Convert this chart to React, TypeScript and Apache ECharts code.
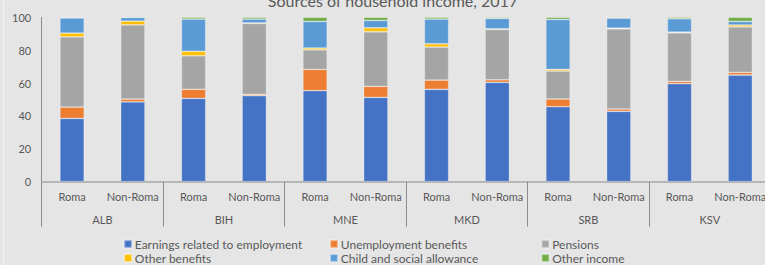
import React, { useEffect, useRef } from "react";
import * as echarts from "echarts";

const groups = ["ALB", "BIH", "MNE", "MKD", "SRB", "KSV"];
const subgroups = ["Roma", "Non-Roma"];
const categories = groups.flatMap((g) => subgroups.map((s) => `${g} ${s}`));
const yTicks = [0, 20, 40, 60, 80, 100];

const seriesNames = [
  "Earnings related to employment",
  "Unemployment benefits",
  "Pensions",
  "Other benefits",
  "Child and social allowance",
  "Other income",
];
const earnings = [38.5, 48.6, 50.7, 52.3, 55.4, 51.3, 56.2, 60.4, 45.6, 42.8, 59.6, 64.9];
const unemployment = [6.9, 1.7, 5.5, 0.8, 12.9, 6.7, 5.6, 1.6, 4.7, 1.4, 1.4, 1.6];
const pensions = [42.7, 45.1, 20.4, 43.2, 11.9, 33.2, 20.1, 30.6, 17.0, 48.8, 29.6, 27.7];
const otherBenefits = [2.3, 2.3, 2.7, 0.3, 1.1, 2.4, 2.0, 0.4, 1.0, 0.4, 0.4, 1.1];
const childAllowance = [9.2, 2.2, 19.6, 2.3, 16.2, 4.5, 15.0, 6.3, 30.4, 6.1, 8.1, 2.2];
const otherIncome = [0.4, 0.1, 1.1, 1.1, 2.5, 1.9, 1.1, 0.7, 1.3, 0.5, 0.9, 2.5];
const seriesValues = [earnings, unemployment, pensions, otherBenefits, childAllowance, otherIncome];
const colors = ["#4472c4", "#ed7d31", "#a5a5a5", "#ffc000", "#5b9bd5", "#70ad47"];

const FONT = "Lato";
const TXT = "#595959";

export default function App() {
  const ref = useRef<HTMLDivElement>(null);
  useEffect(() => {
    if (!ref.current) return;
    const chart = echarts.init(ref.current, undefined, { renderer: "svg" });
    const legendPos = [
      [123.3, 237],
      [329.3, 237],
      [540.7, 237],
      [123.3, 251],
      [329.3, 251],
      [540.7, 251],
    ];
    chart.setOption({
      animation: false,
      backgroundColor: "#e5e5e5",
      textStyle: { fontFamily: FONT },
      graphic: [
        {
          type: "line",
          shape: { x1: 3.5, y1: 0, x2: 3.5, y2: 265 },
          style: { stroke: "#f0f0f0", lineWidth: 1 },
          silent: true,
        },
        {
          type: "text",
          x: 393,
          y: 8,
          style: {
            text: "Sources of household income, 2017",
            fill: TXT,
            font: `16px ${FONT}`,
            textAlign: "center",
            textVerticalAlign: "bottom",
          },
          silent: true,
        },
      ],
      legend: seriesNames.map((n, i) => ({
        data: [n],
        left: legendPos[i][0],
        top: legendPos[i][1],
        padding: 0,
        itemWidth: 7.5,
        itemHeight: 7.5,
        icon: "rect",
        selectedMode: false,
        textStyle: { fontFamily: FONT, fontSize: 12, color: TXT, lineHeight: 14, padding: [0, 0, 0, -2] },
      })),
      grid: { left: 41.7, right: 19.4, top: 17.3, bottom: 83.3, containLabel: false },
      xAxis: [
        {
          type: "category",
          data: categories,
          axisLine: { show: true, lineStyle: { color: "#a6a6a6", width: 1.5 } },
          axisTick: { show: false },
          axisLabel: {
            formatter: (v: string) => v.split(" ")[1],
            interval: 0,
            margin: 9,
            fontSize: 11,
            color: TXT,
            fontFamily: FONT,
          },
        },
        {
          type: "category",
          data: groups,
          position: "bottom",
          axisLine: { show: false },
          axisTick: { show: true, length: 45, lineStyle: { color: "#8c8c8c", width: 1 } },
          axisLabel: { interval: 0, margin: 32, fontSize: 11, color: TXT, fontFamily: FONT },
        },
      ],
      yAxis: {
        type: "value",
        min: 0,
        max: 100,
        interval: 20,
        axisLine: { show: true, lineStyle: { color: "#8c8c8c", width: 1 } },
        axisTick: { show: false },
        splitLine: { show: false },
        axisLabel: {
          margin: 10.5,
          fontSize: 11,
          color: TXT,
          fontFamily: FONT,
          formatter: (v: number) => (yTicks.includes(v) ? String(v) : ""),
        },
      },
      series: seriesNames.map((n, i) => ({
        name: n,
        type: "bar",
        stack: "total",
        barWidth: 24.3,
        xAxisIndex: 0,
        data: seriesValues[i],
        itemStyle: { color: colors[i], borderColor: "rgba(255,255,255,0.35)", borderWidth: 0.75 },
      })),
    });
    return () => chart.dispose();
  }, []);
  return (
    <div
      style={{
        position: "fixed",
        left: 0,
        top: 0,
        width: 765,
        height: 265,
        overflow: "hidden",
        background: "#e5e5e5",
      }}
    >
      <div ref={ref} style={{ width: 790, height: 265 }} />
    </div>
  );
}
